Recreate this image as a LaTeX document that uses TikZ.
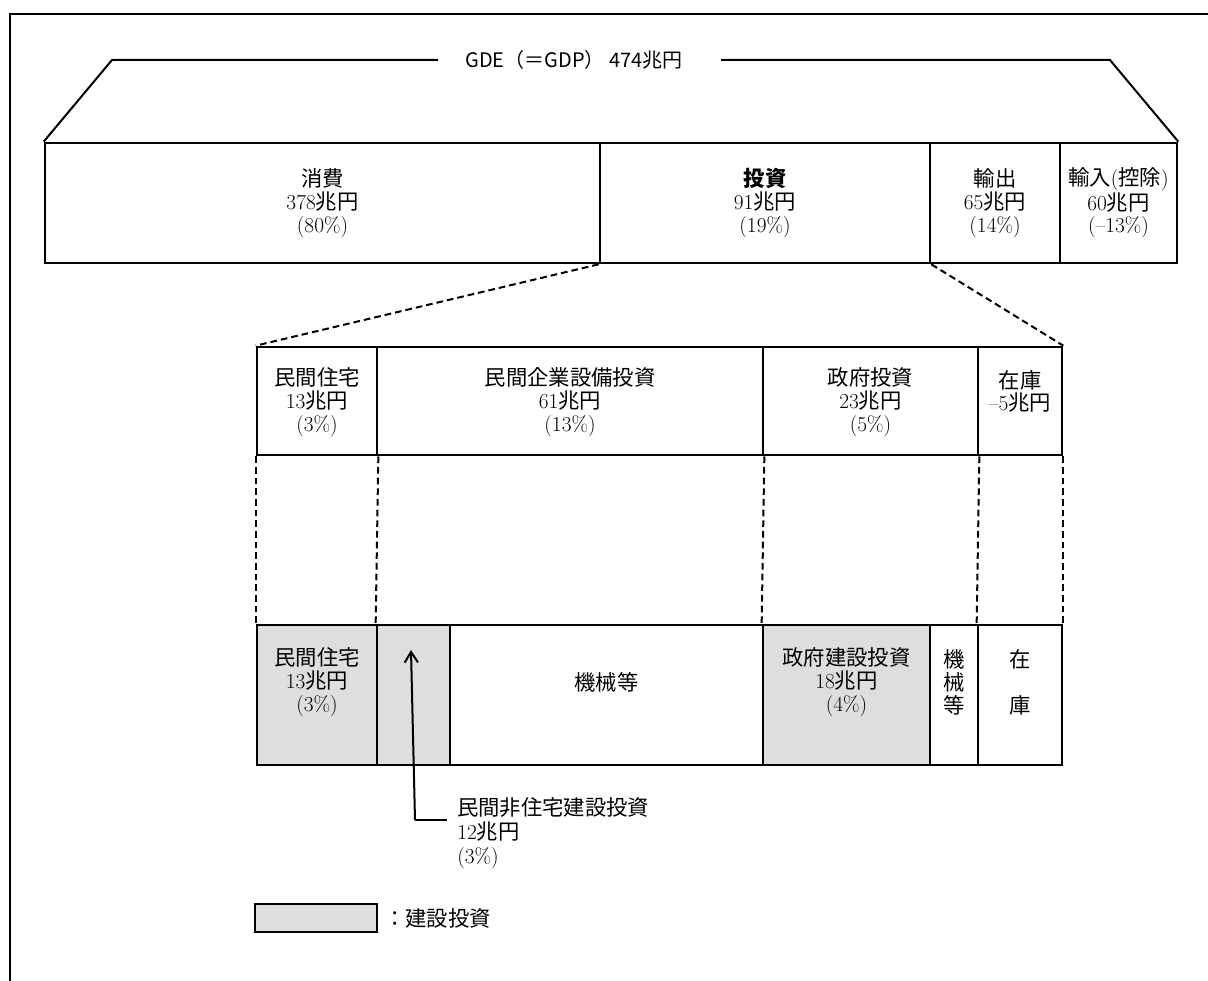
\documentclass[tikz,border=0pt]{standalone}
\usepackage{fontspec}
\newfontfamily\cjk{Noto Sans CJK JP}
\usetikzlibrary{arrows.meta}
\newcommand\J[1]{{\cjk #1}}
\tikzset{
  cellbox/.style={draw, line width=2pt, inner sep=0pt},
  shade/.style={fill=black!13},
  celltext/.style={align=center, inner sep=0pt, font=\fontsize{16}{17.2}\selectfont},
  thinline/.style={line width=1.5pt},
  dashline/.style={line width=1.5pt, dash pattern=on 5pt off 3pt},
  frame/.style={line width=1.8pt},
  ptr/.style={line width=1.5pt, -{Straight Barb[length=8pt,width=10pt,line width=1.5pt]}}
}
% [opts]{name}{x1}{y1}{x2}{y2}{text y}{text}
\newcommand\mycell[8][]{%
  \node[cellbox,#1,minimum width={(#5-#3)*0.75pt},minimum height={(#6-#4)*0.75pt}] (#2) at ({(#3+#5)/2},{(#4+#6)/2}) {};
  \node[celltext] (#2t) at ({(#3+#5)/2},#7) {#8};}
\begin{document}
\begin{tikzpicture}[x=0.75pt,y=-0.75pt]
\useasboundingbox (0,0) rectangle (1208,981);
% outer frame
\draw[frame] (10,981) -- (10,14) -- (1208,14);
% title
\node[inner sep=0pt, font=\fontsize{15}{17}\selectfont] (title) at (574,60) {\cjk GDE（＝GDP）\ 474兆円};
\coordinate (tl) at (112,60);
\coordinate (tr) at (1110,60);
\coordinate (gl) at (438,60);
\coordinate (gr) at (721,60);
% upper row
\mycell{cons}{45}{143}{600}{263}{203}{\J{消費}\\378\J{兆円}\\(80\%)}
\mycell{inv}{600}{143}{930}{263}{203}{\J{\bfseries 投資}\\91\J{兆円}\\(19\%)}
\mycell{exp}{930}{143}{1060}{263}{203}{\J{輸出}\\65\J{兆円}\\(14\%)}
\mycell{imp}{1060}{143}{1177}{263}{203}{\J{輸入}(\J{控除})\\60\J{兆円}\\(--13\%)}
\draw[thinline] (cons.north west) -- (tl) -- (gl);
\draw[thinline] (gr) -- (tr) -- (imp.north east);
% middle row
\mycell{m1}{257}{347}{377}{455}{402}{\J{民間住宅}\\13\J{兆円}\\(3\%)}
\mycell{m2}{377}{347}{763}{455}{402}{\J{民間企業設備投資}\\61\J{兆円}\\(13\%)}
\mycell{m3}{763}{347}{978}{455}{402}{\J{政府投資}\\23\J{兆円}\\(5\%)}
\mycell{m4}{978}{347}{1062}{455}{402}{\J{在庫}\\--5\J{兆円}\\\mbox{}}
\draw[dashline] (inv.south west) -- (m1.north west);
\draw[dashline] (inv.south east) -- (m4.north east);
% bottom row
\mycell[shade]{b1}{257}{625}{377}{765}{682}{\J{民間住宅}\\13\J{兆円}\\(3\%)}
\mycell[shade]{b2}{377}{625}{450}{765}{682}{}
\mycell{b3}{450}{625}{763}{765}{682}{\J{機械等}}
\mycell[shade]{b4}{763}{625}{930}{765}{682}{\J{政府建設投資}\\18\J{兆円}\\(4\%)}
\mycell{b5}{930}{625}{978}{765}{682}{\J{機}\\\J{械}\\\J{等}}
\mycell{b6}{978}{625}{1062}{765}{682}{\J{在}\\\mbox{}\\\J{庫}}
\draw[dashline] (m1.south west) -- (b1.north west);
\draw[dashline] (m1.south east) -- (b2.north west);
\draw[dashline] (m2.south east) -- (b4.north west);
\draw[dashline] (m3.south east) -- (b6.north west);
\draw[dashline] (m4.south east) -- (b6.north east);
% annotation
\node[anchor=north west, align=left, inner sep=0pt, font=\fontsize{16}{18}\selectfont] (note) at (457,797) {\J{民間非住宅建設投資}\\12\J{兆円}\\(3\%)};
\coordinate (noteend) at (447,820);
\coordinate (elbow) at (415,820);
\coordinate (tip) at (411,650);
\draw[thinline] (noteend) -- (elbow);
\draw[ptr] (elbow) -- (tip);
% legend
\node[cellbox, shade, minimum width={122*0.75pt}, minimum height={28*0.75pt}] (leg) at (316,918) {};
\node[anchor=west, inner sep=0pt, font=\fontsize{16}{18}\selectfont] (legt) at (384,918) {\J{：建設投資}};
\end{tikzpicture}
\end{document}
